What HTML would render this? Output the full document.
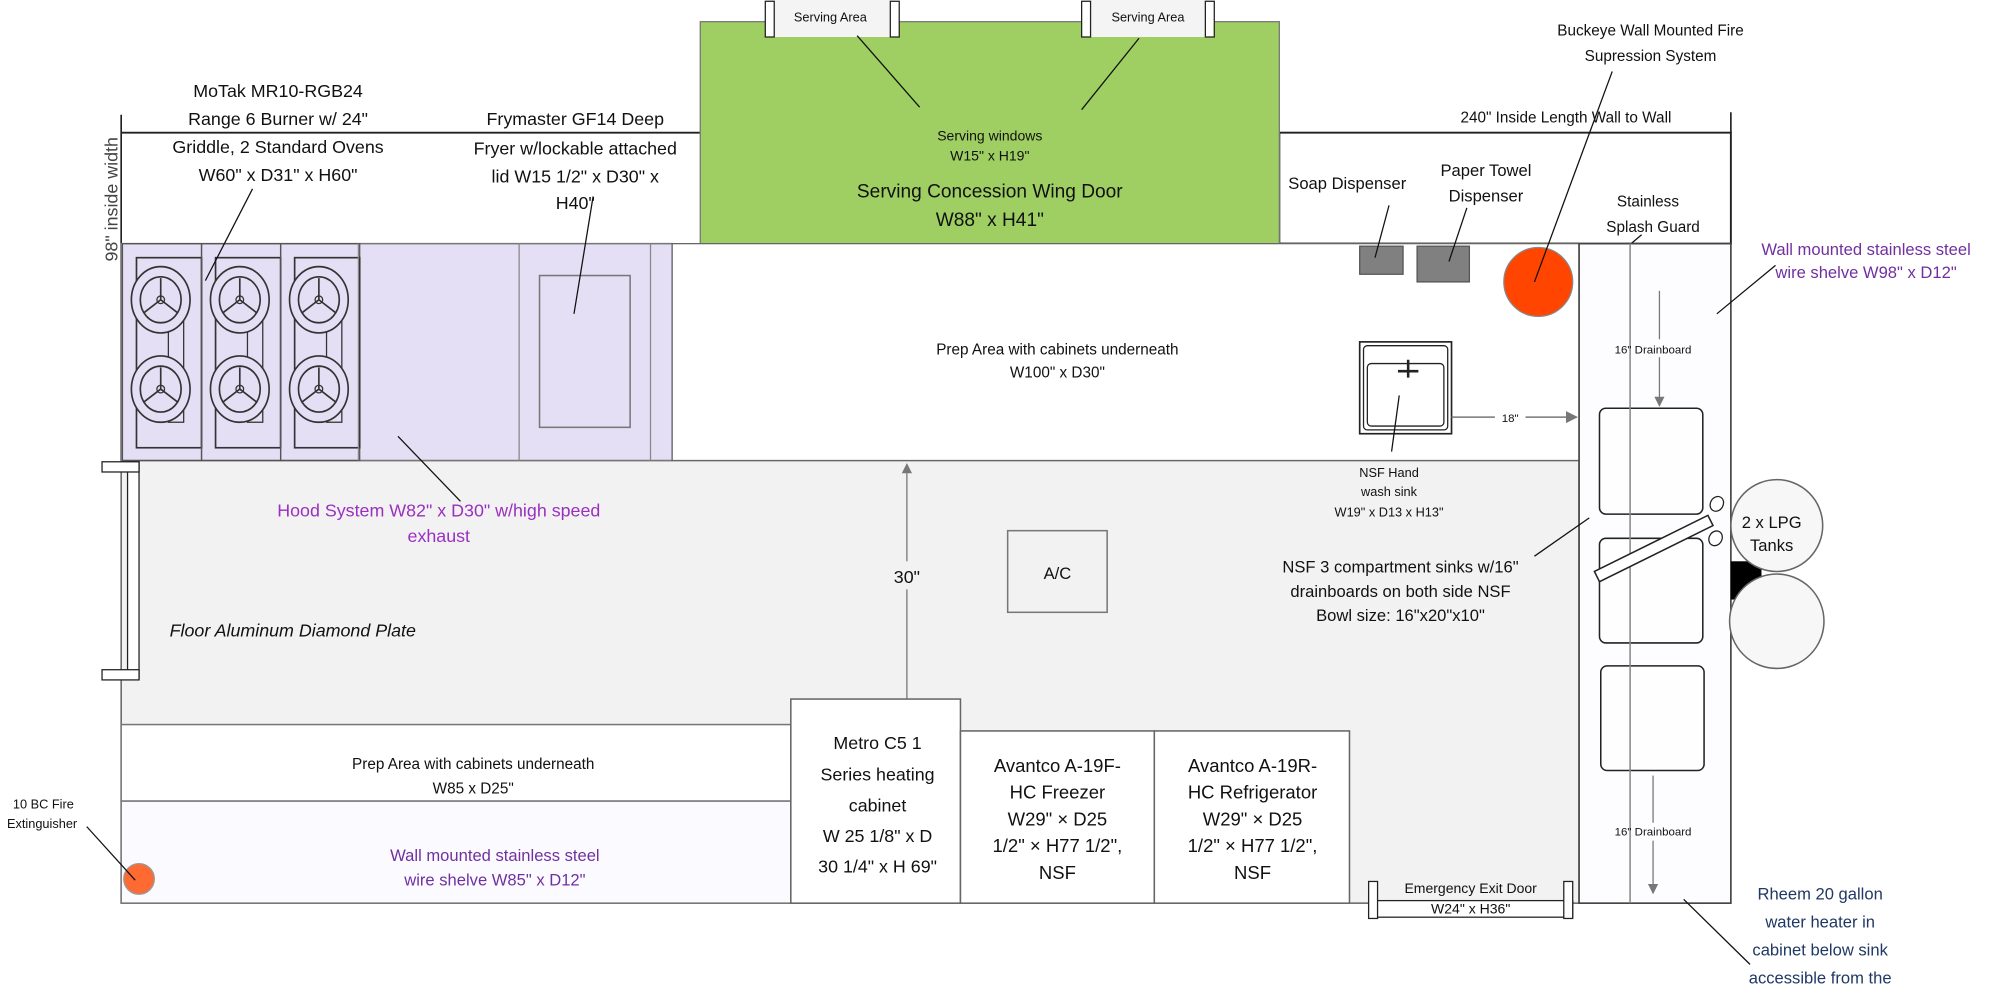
<!DOCTYPE html>
<html><head><meta charset="utf-8"><style>
html,body{margin:0;padding:0;background:#fff;width:2000px;height:995px;overflow:hidden}
svg{display:block}
text{font-family:"Liberation Sans Narrow","Liberation Sans",sans-serif;fill:#111}
</style></head><body>
<svg width="2000" height="995" viewBox="0 0 1568 780" preserveAspectRatio="none" xmlns="http://www.w3.org/2000/svg">
<defs>
<marker id="ah" markerWidth="8" markerHeight="8" refX="7" refY="4" orient="auto"><path d="M0,0 L8,4 L0,8 z" fill="#777"/></marker>
<g id="range">
<rect x="0" y="0" width="62" height="170" fill="none" stroke="#555" stroke-width="1"/>
<rect x="11" y="11" width="51" height="149" fill="none" stroke="#333" stroke-width="1.3"/>
<rect x="36" y="34" width="12" height="106" fill="none" stroke="#333" stroke-width="1"/>
<ellipse cx="30" cy="44" rx="23" ry="26" fill="#e4dff5" stroke="#333" stroke-width="1.3"/>
<ellipse cx="30" cy="44" rx="16" ry="18" fill="none" stroke="#333" stroke-width="1.3"/>
<path d="M30,44 L30,27 M30,44 L17,54 M30,44 L43,54" stroke="#333" stroke-width="1.3"/>
<circle cx="30" cy="44" r="3" fill="none" stroke="#333"/>
<ellipse cx="30" cy="114" rx="23" ry="26" fill="#e4dff5" stroke="#333" stroke-width="1.3"/>
<ellipse cx="30" cy="114" rx="16" ry="18" fill="none" stroke="#333" stroke-width="1.3"/>
<path d="M30,114 L30,97 M30,114 L17,124 M30,114 L43,124" stroke="#333" stroke-width="1.3"/>
<circle cx="30" cy="114" r="3" fill="none" stroke="#333"/>
</g>
</defs>

<rect x="95" y="361" width="1143" height="347" fill="#f2f2f2" stroke="#666" stroke-width="1.2"/>
<line x1="95" y1="104" x2="549" y2="104" stroke="#222" stroke-width="1.5"/>
<line x1="95" y1="90" x2="95" y2="361" stroke="#222" stroke-width="1.3"/>
<rect x="1003" y="104" width="354" height="87" fill="#fff" stroke="#222" stroke-width="1.5"/>
<line x1="1357" y1="88" x2="1357" y2="104" stroke="#222" stroke-width="1.3"/>
<line x1="549" y1="191" x2="1238" y2="191" stroke="#222" stroke-width="1.5"/>

<rect x="549" y="17" width="454" height="174" fill="#9fcf62" stroke="#777" stroke-width="1"/>
<rect x="602" y="0" width="100" height="29" fill="#f4f4f4"/>
<rect x="600" y="1" width="7" height="28" fill="#fff" stroke="#222"/>
<rect x="698" y="1" width="7" height="28" fill="#fff" stroke="#222"/>
<rect x="850" y="0" width="100" height="29" fill="#f4f4f4"/>
<rect x="848" y="1" width="7" height="28" fill="#fff" stroke="#222"/>
<rect x="945" y="1" width="7" height="28" fill="#fff" stroke="#222"/>
<text x="651" y="17" font-size="10" text-anchor="middle">Serving Area</text>
<text x="900" y="17" font-size="10" text-anchor="middle">Serving Area</text>
<line x1="672" y1="28" x2="721" y2="84" stroke="#111"/>
<line x1="893" y1="30" x2="848" y2="86" stroke="#111"/>
<text x="776" y="110" font-size="11" text-anchor="middle">Serving windows</text>
<text x="776" y="126" font-size="11" text-anchor="middle">W15" x H19"</text>
<text x="776" y="155" font-size="15" text-anchor="middle">Serving Concession Wing Door</text>
<text x="776" y="177" font-size="15" text-anchor="middle">W88" x H41"</text>

<rect x="95" y="191" width="432" height="170" fill="#e4dff5" stroke="#777" stroke-width="1.2"/>
<use href="#range" x="96" y="191"/>
<use href="#range" x="158" y="191"/>
<use href="#range" x="220" y="191"/>
<line x1="281" y1="191" x2="281" y2="361" stroke="#888"/>
<line x1="407" y1="191" x2="407" y2="361" stroke="#888"/>
<line x1="510" y1="191" x2="510" y2="361" stroke="#888"/>
<rect x="423" y="216" width="71" height="119" fill="none" stroke="#777" stroke-width="1.2"/>
<line x1="198" y1="148" x2="161" y2="220" stroke="#111"/>
<line x1="465" y1="154" x2="450" y2="246" stroke="#111"/>
<line x1="312" y1="342" x2="361" y2="393" stroke="#111"/>

<text x="218" y="76" font-size="14" text-anchor="middle">MoTak MR10-RGB24</text>
<text x="218" y="98" font-size="14" text-anchor="middle">Range 6 Burner  w/ 24"</text>
<text x="218" y="120" font-size="14" text-anchor="middle">Griddle, 2 Standard Ovens</text>
<text x="218" y="142" font-size="14" text-anchor="middle">W60" x D31" x H60"</text>
<text x="451" y="98" font-size="14" text-anchor="middle">Frymaster GF14 Deep</text>
<text x="451" y="121" font-size="14" text-anchor="middle">Fryer w/lockable attached</text>
<text x="451" y="143" font-size="14" text-anchor="middle">lid W15 1/2" x D30" x</text>
<text x="451" y="164" font-size="14" text-anchor="middle">H40"</text>
<text transform="translate(92,205) rotate(-90)" font-size="14" style="font-family:'Liberation Sans',sans-serif;fill:#444">98" inside width</text>

<rect x="527" y="191" width="711" height="170" fill="#fff" stroke="#666" stroke-width="1"/>
<text x="829" y="278" font-size="12" text-anchor="middle">Prep Area with cabinets underneath</text>
<text x="829" y="296" font-size="12" text-anchor="middle">W100" x D30"</text>

<rect x="1066" y="193" width="34" height="22" fill="#808080" stroke="#555"/>
<rect x="1111" y="193" width="41" height="28" fill="#808080" stroke="#555"/>
<circle cx="1206" cy="221" r="27" fill="#ff4500" stroke="#888"/>
<line x1="1089" y1="161" x2="1078" y2="202" stroke="#111"/>
<line x1="1150" y1="163" x2="1136" y2="205" stroke="#111"/>
<text x="1010" y="148" font-size="13">Soap Dispenser</text>
<text x="1165" y="138" font-size="13" text-anchor="middle">Paper Towel</text>
<text x="1165" y="158" font-size="13" text-anchor="middle">Dispenser</text>
<line x1="1264" y1="56" x2="1203" y2="221" stroke="#111"/>
<text x="1294" y="28" font-size="12" text-anchor="middle">Buckeye Wall Mounted Fire</text>
<text x="1294" y="48" font-size="12" text-anchor="middle">Supression System</text>
<text x="1145" y="96" font-size="12" fill="#222">240" Inside Length Wall to Wall</text>
<text x="1292" y="162" font-size="12" text-anchor="middle">Stainless</text>
<text x="1296" y="182" font-size="12" text-anchor="middle">Splash Guard</text>
<line x1="1287" y1="184" x2="1240" y2="224" stroke="#111"/>

<rect x="1066" y="268" width="72" height="72" fill="#fff" stroke="#222" stroke-width="1.3"/>
<rect x="1069" y="271" width="66" height="66" rx="3" fill="none" stroke="#222"/>
<rect x="1072" y="285" width="60" height="49" rx="3" fill="none" stroke="#222"/>
<path d="M1096,291 L1112,291 M1104,282 L1104,296" stroke="#222" stroke-width="2"/>
<line x1="1097" y1="310" x2="1091" y2="354" stroke="#111"/>
<line x1="1138" y1="327" x2="1172" y2="327" stroke="#777" stroke-width="1.2"/>
<line x1="1196" y1="327" x2="1236" y2="327" stroke="#777" stroke-width="1.2" marker-end="url(#ah)"/>
<text x="1184" y="331" font-size="9" text-anchor="middle" fill="#555">18"</text>
<text x="1089" y="374" font-size="10" text-anchor="middle">NSF Hand</text>
<text x="1089" y="389" font-size="10" text-anchor="middle">wash sink</text>
<text x="1089" y="405" font-size="10" text-anchor="middle">W19" x D13 x H13"</text>

<rect x="1238" y="191" width="119" height="517" fill="#fdfdff" stroke="#444" stroke-width="1.3"/>
<rect x="1254" y="320" width="81" height="83" rx="5" fill="#fff" fill-opacity="0.5" stroke="#222" stroke-width="1.2"/>
<rect x="1254" y="422" width="81" height="82" rx="5" fill="#fff" fill-opacity="0.5" stroke="#222" stroke-width="1.2"/>
<rect x="1255" y="522" width="81" height="82" rx="5" fill="#fff" fill-opacity="0.5" stroke="#222" stroke-width="1.2"/>
<line x1="1278" y1="191" x2="1278" y2="708" stroke="#888" stroke-width="1.2"/>
<line x1="1301" y1="228" x2="1301" y2="318" stroke="#777" marker-end="url(#ah)"/>
<line x1="1296" y1="608" x2="1296" y2="700" stroke="#777" marker-end="url(#ah)"/>
<rect x="1295" y="266" width="12" height="14" fill="#fdfdff"/>
<text x="1296" y="277" font-size="9" text-anchor="middle" fill="#444">16" Drainboard</text>
<rect x="1290" y="645" width="12" height="14" fill="#fdfdff"/>
<text x="1296" y="655" font-size="9" text-anchor="middle" fill="#444">16" Drainboard</text>
<polygon points="1250,448 1339,404 1343,412 1254,456" fill="#fff" stroke="#222" stroke-width="1.2"/>
<ellipse cx="1346" cy="395" rx="5" ry="6" fill="#fff" stroke="#222" transform="rotate(30 1346 395)"/>
<ellipse cx="1345" cy="422" rx="5" ry="6" fill="#fff" stroke="#222" transform="rotate(30 1345 422)"/>
<line x1="1246" y1="406" x2="1203" y2="436" stroke="#111"/>
<text x="1098" y="449" font-size="13" text-anchor="middle">NSF 3 compartment sinks w/16"</text>
<text x="1098" y="468" font-size="13" text-anchor="middle">drainboards on both side NSF</text>
<text x="1098" y="487" font-size="13" text-anchor="middle">Bowl size: 16"x20"x10"</text>

<rect x="1357" y="440" width="24" height="30" fill="#000"/>
<circle cx="1393" cy="487" r="37" fill="#f7f7f7" stroke="#666" stroke-width="1.2"/>
<circle cx="1393" cy="412" r="36" fill="#f7f7f7" stroke="#666" stroke-width="1.2"/>
<text x="1389" y="414" font-size="13" text-anchor="middle" style="font-family:'Liberation Sans',sans-serif">2 x LPG</text>
<text x="1389" y="432" font-size="13" text-anchor="middle" style="font-family:'Liberation Sans',sans-serif">Tanks</text>

<text x="1463" y="200" font-size="13" text-anchor="middle" style="fill:#7030a0">Wall mounted stainless steel</text>
<text x="1463" y="218" font-size="13" text-anchor="middle" style="fill:#7030a0">wire shelve W98" x D12"</text>
<line x1="1392" y1="208" x2="1346" y2="246" stroke="#111"/>

<rect x="100" y="362" width="9" height="170" fill="#fff" stroke="#222"/>
<rect x="80" y="362" width="29" height="8" fill="#fff" stroke="#222"/>
<rect x="80" y="525" width="29" height="8" fill="#fff" stroke="#222"/>

<text x="344" y="405" font-size="14" text-anchor="middle" style="fill:#9a30c0">Hood System W82" x D30" w/high speed</text>
<text x="344" y="425" font-size="14" text-anchor="middle" style="fill:#9a30c0">exhaust</text>
<text x="133" y="499" font-size="14" font-style="italic">Floor Aluminum Diamond Plate</text>
<line x1="711" y1="548" x2="711" y2="364" stroke="#777" marker-end="url(#ah)"/>
<rect x="699" y="440" width="24" height="22" fill="#f2f2f2"/>
<text x="711" y="457" font-size="14" text-anchor="middle">30"</text>
<rect x="790" y="416" width="78" height="64" fill="#f2f2f2" stroke="#777" stroke-width="1.2"/>
<text x="829" y="454" font-size="13" text-anchor="middle">A/C</text>

<rect x="95" y="568" width="525" height="60" fill="#fff" stroke="#777" stroke-width="1.2"/>
<rect x="95" y="628" width="525" height="80" fill="#fbfbff" stroke="#777" stroke-width="1.2"/>
<text x="371" y="603" font-size="12" text-anchor="middle">Prep Area with cabinets underneath</text>
<text x="371" y="622" font-size="12" text-anchor="middle">W85 x D25"</text>
<text x="388" y="675" font-size="13" text-anchor="middle" style="fill:#7030a0">Wall mounted stainless steel</text>
<text x="388" y="694" font-size="13" text-anchor="middle" style="fill:#7030a0">wire shelve W85" x D12"</text>
<circle cx="109" cy="689" r="12" fill="#ff6a33" stroke="#999"/>
<line x1="68" y1="648" x2="106" y2="690" stroke="#111"/>
<text x="34" y="634" font-size="10" text-anchor="middle">10 BC Fire</text>
<text x="33" y="649" font-size="10" text-anchor="middle">Extinguisher</text>

<rect x="620" y="548" width="133" height="160" fill="#fff" stroke="#666" stroke-width="1.2"/>
<text x="688" y="587" font-size="14" text-anchor="middle">Metro C5 1</text>
<text x="688" y="612" font-size="14" text-anchor="middle">Series heating</text>
<text x="688" y="636" font-size="14" text-anchor="middle">cabinet</text>
<text x="688" y="660" font-size="14" text-anchor="middle">W 25 1/8" x D</text>
<text x="688" y="684" font-size="14" text-anchor="middle">30 1/4" x H 69"</text>

<rect x="753" y="573" width="152" height="135" fill="#fff" stroke="#666" stroke-width="1.2"/>
<text x="829" y="605" font-size="14.5" text-anchor="middle">Avantco A-19F-</text>
<text x="829" y="626" font-size="14.5" text-anchor="middle">HC Freezer</text>
<text x="829" y="647" font-size="14.5" text-anchor="middle">W29" × D25</text>
<text x="829" y="668" font-size="14.5" text-anchor="middle">1/2" × H77 1/2",</text>
<text x="829" y="689" font-size="14.5" text-anchor="middle">NSF</text>

<rect x="905" y="573" width="153" height="135" fill="#fff" stroke="#666" stroke-width="1.2"/>
<text x="982" y="605" font-size="14.5" text-anchor="middle">Avantco A-19R-</text>
<text x="982" y="626" font-size="14.5" text-anchor="middle">HC Refrigerator</text>
<text x="982" y="647" font-size="14.5" text-anchor="middle">W29" × D25</text>
<text x="982" y="668" font-size="14.5" text-anchor="middle">1/2" × H77 1/2",</text>
<text x="982" y="689" font-size="14.5" text-anchor="middle">NSF</text>

<rect x="1073" y="706" width="160" height="13" fill="#fff" stroke="#222"/>
<rect x="1073" y="691" width="7" height="29" fill="#fff" stroke="#222"/>
<rect x="1226" y="691" width="7" height="29" fill="#fff" stroke="#222"/>
<text x="1153" y="700" font-size="11" text-anchor="middle">Emergency  Exit Door</text>
<text x="1153" y="716" font-size="11" text-anchor="middle">W24" x H36"</text>

<line x1="1320" y1="705" x2="1372" y2="756" stroke="#111"/>
<text x="1427" y="705" font-size="13" text-anchor="middle" style="fill:#1f3864">Rheem 20 gallon</text>
<text x="1427" y="727" font-size="13" text-anchor="middle" style="fill:#1f3864">water heater in</text>
<text x="1427" y="749" font-size="13" text-anchor="middle" style="fill:#1f3864">cabinet below sink</text>
<text x="1427" y="771" font-size="13" text-anchor="middle" style="fill:#1f3864">accessible from the</text>
<text x="1427" y="793" font-size="13" text-anchor="middle" style="fill:#1f3864">inside</text>
</svg>
</body></html>
